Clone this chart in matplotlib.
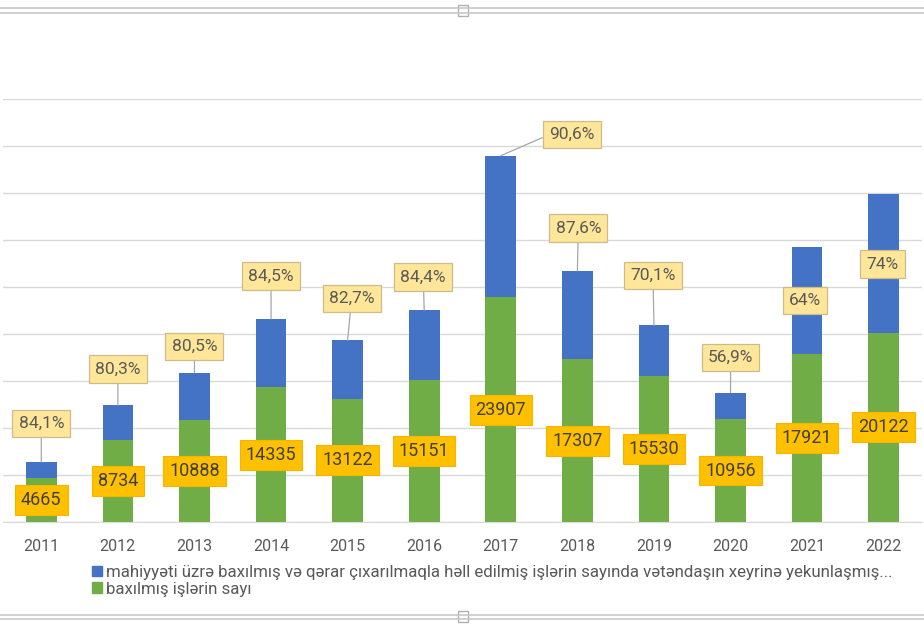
import matplotlib.pyplot as plt
from matplotlib.patches import Patch, Rectangle
from matplotlib.lines import Line2D

plt.rcParams["font.family"] = ["Roboto", "DejaVu Sans"]

# 데이터
years = ["2011", "2012", "2013", "2014", "2015", "2016",
         "2017", "2018", "2019", "2020", "2021", "2022"]
baxilmis = [4665, 8734, 10888, 14335, 13122, 15151,
            23907, 17307, 15530, 10956, 17921, 20122]
xeyrine = [1690, 3710, 4990, 7260, 6210, 7400,
           15060, 9400, 5400, 2800, 11370, 14770]
faiz = [84.1, 80.3, 80.5, 84.5, 82.7, 84.4,
        90.6, 87.6, 70.1, 56.9, 64, 74]
names = ["mahiyyəti üzrə baxılmış və qərar çıxarılmaqla həll edilmiş "
         "işlərin sayında vətəndaşın xeyrinə yekunlaşmış...",
         "baxılmış işlərin sayı"]

BLUE, GREEN = "#4472C4", "#70AD47"
TXT = "#595959"
# 퍼센트 라벨 위치 (막대 꼭대기 기준 픽셀 오프셋)
lab_dx = [0, 0, 0, 0, 4, -1, 71, 1, -1, 0, -2, -1]
lab_dy = [39, 36, 26, 43, 42, 33, 21, 43, 50, 35, -54, -70]

fig = plt.figure(figsize=(9.24, 6.3), dpi=100)
ax = fig.add_axes([3 / 924, 108 / 630, 919 / 924, 423 / 630])
x = range(len(years))
ax.bar(x, baxilmis, 0.4, color=GREEN, zorder=2)
ax.bar(x, xeyrine, 0.4, bottom=baxilmis, color=BLUE, zorder=2)

ax.set_xlim(-0.5, 11.5)
ax.set_ylim(0, 45000)
ax.set_yticks(range(0, 45001, 5000))
ax.set_yticklabels([])
ax.tick_params(axis="y", length=0)
ax.tick_params(axis="x", length=0, pad=12.5, labelsize=11.5,
               labelcolor=TXT)
ax.set_xticks(list(x))
ax.set_xticklabels(years)
ax.grid(axis="y", color="#D9D9D9", lw=1, zorder=0)
for s in ("left", "right", "top"):
    ax.spines[s].set_visible(False)
ax.spines["bottom"].set_color("#D9D9D9")

# 초록 막대 값 라벨 (가운데)
for i, v in enumerate(baxilmis):
    ax.text(i, v / 2, str(v), ha="center", va="center",
            fontsize=13, color="#404040", zorder=4,
            bbox=dict(boxstyle="square,pad=0.33", fc="#FFC000",
                      ec="#F2B600", lw=0.8))

# 퍼센트 라벨 + 지시선
for i, (g, b, p) in enumerate(zip(baxilmis, xeyrine, faiz)):
    txt = (f"{p:.0f}%" if p == int(p) else f"{p:.1f}%").replace(".", ",")
    top = g + b
    inside = lab_dy[i] < 0
    ax.annotate(txt, (i, top), xytext=(lab_dx[i], lab_dy[i]),
                textcoords="offset pixels", ha="center", va="center",
                fontsize=12.5, color=TXT, zorder=5,
                bbox=dict(boxstyle="square,pad=0.36", fc="#FFE699",
                          ec="#CDBB8C", lw=0.9),
                arrowprops=None if inside else dict(
                    arrowstyle="-", color="#A6A6A6", lw=0.9,
                    shrinkA=0, shrinkB=0,
                    relpos=(0, 0.5) if lab_dx[i] > 30 else (0.5, 0.5)))

handles = [Patch(color=BLUE), Patch(color=GREEN)]
fig.legend(handles, names, loc="upper left",
           bbox_to_anchor=(92 / 924, 1 - 565 / 630), frameon=False,
           fontsize=12.2, labelcolor=TXT, handlelength=0.6,
           handleheight=0.6, handletextpad=0.25, labelspacing=0.1,
           borderpad=0, borderaxespad=0)

# 차트 선택 테두리 (원본 캡처의 장식)
for yy in (8, 13, 615, 619):
    fig.add_artist(Line2D([0, 1], [1 - yy / 630] * 2, color="#C8C8C8",
                          lw=1.2, transform=fig.transFigure))
for yy in (5, 611):
    fig.add_artist(Rectangle((458 / 924, 1 - (yy + 11) / 630),
                             10 / 924, 11 / 630, fc="white",
                             ec="#B0B0B0", lw=1,
                             transform=fig.transFigure))

fig.savefig("out.png", dpi=100, facecolor="white")
